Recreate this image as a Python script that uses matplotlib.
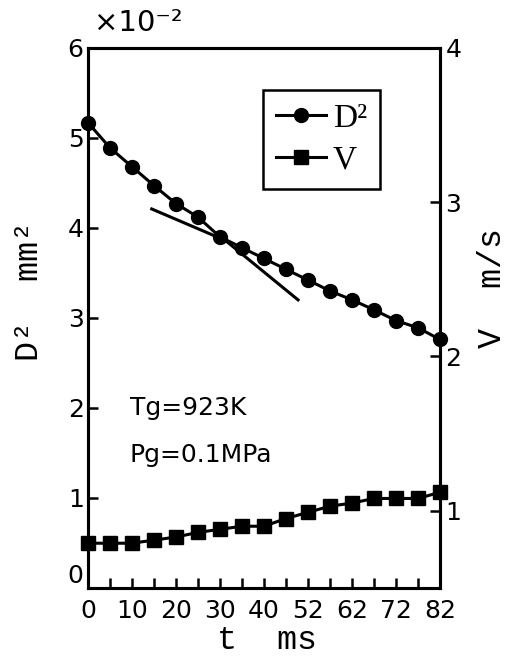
import matplotlib
matplotlib.use("Agg")
import matplotlib.pyplot as plt
from matplotlib.lines import Line2D

# time points are plotted evenly spaced, labelled every other tick
pos = list(range(17))
tick_pos = [0, 2, 4, 6, 8, 10, 12, 14, 16]
tick_lab = ["0", "10", "20", "30", "40", "52", "62", "72", "82"]

# D^2 (x1e-2 mm^2)
d2 = [5.17, 4.89, 4.68, 4.47, 4.27, 4.12, 3.90, 3.78, 3.66, 3.54,
      3.42, 3.30, 3.20, 3.09, 2.97, 2.89, 2.76]
# V (m/s)
vel = [0.79, 0.79, 0.79, 0.81, 0.83, 0.86, 0.88, 0.90, 0.90, 0.95,
       0.99, 1.03, 1.05, 1.08, 1.08, 1.08, 1.12]
# hand drawn tangent
tan_x = [2.9, 6.25, 9.55]
tan_y = [4.21, 3.86, 3.20]

plt.rcParams['font.family'] = ['DejaVu Sans']
plt.rcParams['axes.linewidth'] = 2.2

fig = plt.figure(figsize=(5.14, 6.64), dpi=100)
ax = fig.add_axes([0.171, 0.1145, 0.685, 0.8135])
ax2 = ax.twinx()

ax.plot(pos, d2, color="black", lw=2.2, marker="o", ms=10, clip_on=False, zorder=3)
ax.plot(tan_x, tan_y, color="black", lw=2.2)
ax2.plot(pos, vel, color="black", lw=2.2, marker="s", ms=10, clip_on=False, zorder=3)

ax.set_xlim(0, 16)
ax.set_ylim(0, 6)
ax2.set_ylim(0.5, 4)

ax.set_xticks(tick_pos)
ax.set_xticklabels(tick_lab)
ax.set_xticks(pos, minor=True)
ax.set_yticks([0, 1, 2, 3, 4, 5, 6])
ax2.set_yticks([1, 2, 3, 4])

ax.tick_params(axis="both", which="both", direction="in", labelsize=18, width=1.8)
ax.tick_params(axis="x", which="both", length=7, pad=8)
ax.tick_params(axis="y", length=7, pad=3)
ax2.tick_params(axis="y", direction="in", length=7, width=1.8, labelsize=18, pad=4)
ax.yaxis.get_major_ticks()[0].label1.set_va("bottom")

lab_font = {"family": "Liberation Mono", "size": 24}
ax.set_xlabel("t  ms", fontdict=lab_font)
ax.set_ylabel("D²  mm²", fontdict=lab_font)
ax2.set_ylabel("V  m/s", fontdict=lab_font)
ax.xaxis.set_label_coords(0.51, -0.068)
ax.yaxis.set_label_coords(-0.122, 0.55)
ax2.yaxis.set_label_coords(1.105, 0.555)

fig.text(0.183, 0.945, "×10⁻²", fontsize=21, ha="left", va="bottom")

ax.text(1.9, 2.0, "Tg=923K", fontsize=18, va="center")
ax.text(1.9, 1.48, "Pg=0.1MPa", fontsize=18, va="center")

handles = [Line2D([], [], color="black", lw=2.2, marker="o", ms=10, markevery=[0]),
           Line2D([], [], color="black", lw=2.2, marker="s", ms=10, markevery=[0])]
leg = ax.legend(handles, ["D²", "V"], loc="upper left", bbox_to_anchor=(0.497, 0.922),
                borderaxespad=0, prop={"family": "Liberation Serif", "size": 24},
                frameon=True, fancybox=False, edgecolor="black", framealpha=1,
                handlelength=1.5, handletextpad=0.2, borderpad=0.4, labelspacing=0.35)
leg.get_frame().set_linewidth(1.8)

fig.savefig("out.png", dpi=100)
